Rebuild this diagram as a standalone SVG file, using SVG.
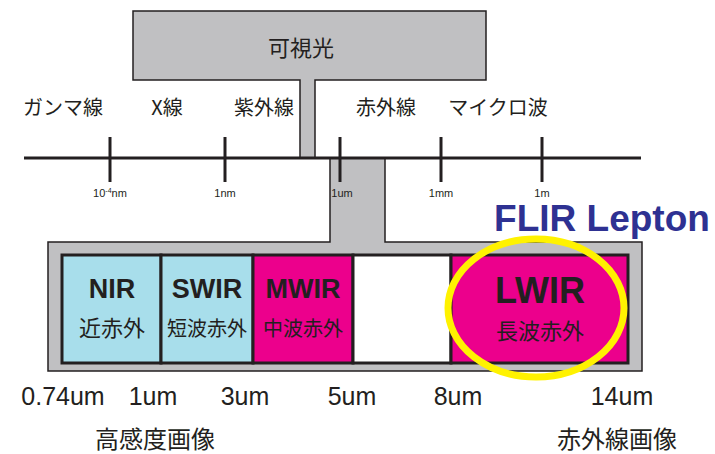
<svg xmlns="http://www.w3.org/2000/svg" width="715" height="454" viewBox="0 0 715 454">
<style>
.jp{font-family:"Noto Sans CJK JP","Noto Sans",sans-serif;fill:#231f20}
.cat{font-size:20px}
.tick{font-family:"Liberation Sans",Arial,sans-serif;font-size:11px;fill:#231f20}
.band{font-family:"Liberation Sans",Arial,sans-serif;font-weight:bold;font-size:27px;fill:#231f20}
.big{font-size:36px}
.bandjp{font-size:20px}
.bandjp2{font-size:22px}
.um{font-family:"Liberation Sans",Arial,sans-serif;font-size:25px;fill:#231f20}
.foot{font-size:24px}
.gray{fill:#c0c0c2;stroke:#231f20;stroke-width:1.5}
.tk{stroke:#231f20;stroke-width:3}
.cell{stroke:#231f20;stroke-width:3}
</style>
<rect width="715" height="454" fill="#fff"/>
<g id="visible">
<path class="gray" d="M133,11 H486 V80 H315 V158 H300 V80 H133 Z"/>
<text class="jp" x="301" y="56" style="font-size:22px" text-anchor="middle">可視光</text>
</g>
<g id="infrared-block">
<path class="gray" d="M330,158 H385 V242 H642 V371 H48 V242 H330 Z"/>
</g>
<g id="connectors">
<line x1="24" y1="158" x2="641" y2="158" stroke="#231f20" stroke-width="3"/>
<line class="tk" x1="110" y1="137" x2="110" y2="182"/>
<line class="tk" x1="225" y1="137" x2="225" y2="182"/>
<line class="tk" x1="340" y1="137" x2="340" y2="182"/>
<line class="tk" x1="441" y1="137" x2="441" y2="182"/>
<line class="tk" x1="542" y1="137" x2="542" y2="182"/>
</g>
<g id="axis-labels">
<text class="jp cat" x="63" y="115" text-anchor="middle">ガンマ線</text>
<text class="jp cat" x="167" y="115" text-anchor="middle">X線</text>
<text class="jp cat" x="264" y="115" text-anchor="middle">紫外線</text>
<text class="jp cat" x="386" y="115" text-anchor="middle">赤外線</text>
<text class="jp cat" x="498" y="115" text-anchor="middle">マイクロ波</text>
<text class="tick" x="110" y="197" text-anchor="middle">10<tspan dy="-4" style="font-size:7px">-4</tspan><tspan dy="4">nm</tspan></text>
<text class="tick" x="225" y="197" text-anchor="middle">1nm</text>
<text class="tick" x="342" y="197" text-anchor="middle">1um</text>
<text class="tick" x="441" y="197" text-anchor="middle">1mm</text>
<text class="tick" x="542" y="197" text-anchor="middle">1m</text>
</g>
<g id="nir">
<rect class="cell" x="62" y="255" width="99" height="108" fill="#a8deeb"/>
<text class="band" x="112" y="298" text-anchor="middle">NIR</text>
<text class="jp bandjp2" x="112" y="336" text-anchor="middle">近赤外</text>
</g>
<g id="swir">
<rect class="cell" x="161" y="255" width="92" height="108" fill="#a8deeb"/>
<text class="band" x="207" y="298" text-anchor="middle">SWIR</text>
<text class="jp bandjp" x="207" y="336" text-anchor="middle">短波赤外</text>
</g>
<g id="mwir">
<rect class="cell" x="253" y="255" width="100" height="108" fill="#ec008c"/>
<text class="band" x="303" y="298" text-anchor="middle">MWIR</text>
<text class="jp bandjp" x="303" y="336" text-anchor="middle">中波赤外</text>
</g>
<g id="gap">
<rect class="cell" x="353" y="255" width="98" height="108" fill="#fff"/>
</g>
<g id="lwir">
<rect class="cell" x="451" y="255" width="177" height="108" fill="#ec008c"/>
<text class="band big" x="540" y="303" text-anchor="middle">LWIR</text>
<text class="jp bandjp2" x="540" y="339" text-anchor="middle">長波赤外</text>
</g>
<g id="flir-highlight">
<ellipse cx="536" cy="308" rx="88" ry="69" fill="none" stroke="#fff200" stroke-width="7"/>
<text x="602" y="231" text-anchor="middle" font-family="Liberation Sans,Arial,sans-serif" font-weight="bold" font-size="37" fill="#2e3192">FLIR Lepton</text>
</g>
<g id="bottom-labels">
<text class="um" x="63" y="405" text-anchor="middle">0.74um</text>
<text class="um" x="153" y="405" text-anchor="middle">1um</text>
<text class="um" x="245" y="405" text-anchor="middle">3um</text>
<text class="um" x="352" y="405" text-anchor="middle">5um</text>
<text class="um" x="458" y="405" text-anchor="middle">8um</text>
<text class="um" x="622" y="405" text-anchor="middle">14um</text>
<text class="jp foot" x="155" y="448" text-anchor="middle">高感度画像</text>
<text class="jp foot" x="617" y="448" text-anchor="middle">赤外線画像</text>
</g>
</svg>
